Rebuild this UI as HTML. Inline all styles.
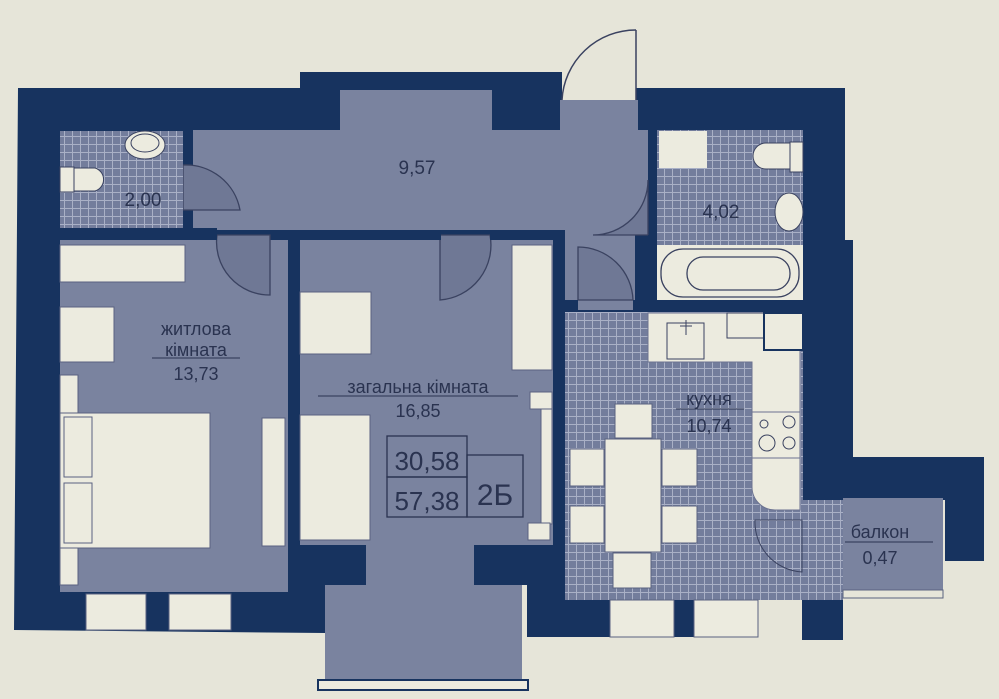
<!DOCTYPE html>
<html><head><meta charset="utf-8"><style>
html,body{margin:0;padding:0;background:#e6e5d9;}
svg{display:block}
text{font-family:"Liberation Sans","DejaVu Sans",sans-serif;fill:#2a3350;}
</style></head><body>
<svg width="999" height="699" viewBox="0 0 999 699" xmlns="http://www.w3.org/2000/svg">
<defs>
<pattern id="tile" width="8" height="8" patternUnits="userSpaceOnUse">
<rect width="8" height="8" fill="#737d9c"/>
<path d="M0 0.5H8M0.5 0V8" stroke="#a9b0c6" stroke-width="1"/>
</pattern>
</defs>
<rect width="999" height="699" fill="#e6e5d9"/>
<g fill="#17335f">
<polygon points="18,88 300,88 300,72 562,72 562,100 636,100 636,88 845,88 845,240 853,240 853,457 984,457 984,561 945,561 945,500 843,500 843,640 802,640 802,600 758,600 758,637 527,637 527,583 325,583 325,633 14,630"/>
</g>
<rect x="562" y="30" width="74" height="70" fill="#e6e5d9"/>
<path d="M636 30 A74 74 0 0 0 562 100" fill="none" stroke="#3a4260" stroke-width="1.5"/>
<line x1="636" y1="30" x2="636" y2="100" stroke="#3a4260" stroke-width="1.5"/>
<g fill="#7a839f">
<rect x="340" y="90" width="152" height="45"/>
<rect x="560" y="100" width="78" height="35"/>
<rect x="193" y="130" width="455" height="100"/>
<rect x="565" y="225" width="70" height="85"/>
<rect x="60" y="240" width="228" height="352"/>
<rect x="300" y="240" width="253" height="305"/>
<rect x="366" y="540" width="108" height="45"/>
<rect x="325" y="583" width="197" height="99"/>
</g>
<g fill="#6f7895" stroke="#3a4260" stroke-width="1.3">
<path d="M183 165 A55 55 0 0 1 240 210 L183 210 Z"/>
<path d="M217 235 A53 53 0 0 0 270 295 L270 235 Z"/>
<path d="M490 235 A55 55 0 0 1 440 300 L440 235 Z"/>
<path d="M648 180 A55 55 0 0 1 593 235 L648 235 Z"/>
<path d="M578 247 A55 55 0 0 1 633 300 L578 300 Z"/>
</g>
<g fill="#17335f">
<rect x="183" y="130" width="10" height="30"/>
<rect x="183" y="213" width="10" height="27"/>
<rect x="60" y="228" width="157" height="12"/>
<rect x="273" y="230" width="168" height="10"/>
<rect x="288" y="240" width="12" height="390"/>
<rect x="490" y="230" width="75" height="10"/>
<rect x="553" y="240" width="12" height="60"/>
<rect x="555" y="300" width="12" height="245"/>
<rect x="648" y="130" width="10" height="48"/>
<rect x="648" y="235" width="10" height="70"/>
<rect x="565" y="300" width="13" height="12"/>
<rect x="633" y="300" width="212" height="13"/>
<rect x="803" y="130" width="42" height="370"/>
<rect x="300" y="545" width="66" height="40"/>
<rect x="474" y="545" width="55" height="40"/>
</g>
<rect x="60" y="131" width="123" height="97" fill="url(#tile)"/>
<ellipse cx="145" cy="145" rx="20" ry="14" fill="#ecebdf" stroke="#3a4260"/>
<ellipse cx="145" cy="143" rx="14" ry="9" fill="none" stroke="#3a4260"/>
<rect x="60" y="167" width="14" height="25" fill="#ecebdf" stroke="#3a4260"/>
<path d="M74 168 H95 A12 12 0 0 1 95 191 H74 Z" fill="#ecebdf" stroke="#3a4260"/>
<rect x="657" y="130" width="146" height="115" fill="url(#tile)"/>
<rect x="659" y="131" width="48" height="37" fill="#ecebdf"/>
<rect x="790" y="142" width="13" height="30" fill="#ecebdf" stroke="#3a4260"/>
<path d="M790 143 H766 A13 13 0 0 0 766 169 H790 Z" fill="#ecebdf" stroke="#3a4260"/>
<ellipse cx="789" cy="212" rx="14" ry="19" fill="#ecebdf" stroke="#3a4260"/>
<rect x="657" y="245" width="146" height="55" fill="#ecebdf"/>
<rect x="661" y="249" width="138" height="48" rx="22" fill="none" stroke="#3a4260" stroke-width="1.3"/>
<rect x="687" y="257" width="103" height="33" rx="16" fill="none" stroke="#3a4260" stroke-width="1.3"/>
<rect x="565" y="312" width="238" height="288" fill="url(#tile)"/>
<rect x="802" y="500" width="41" height="100" fill="url(#tile)"/>
<path d="M648 313 H800 V510 H775 A23 23 0 0 1 752 487 V362 H648 Z" fill="#ecebdf" stroke="#6b7290"/>
<rect x="667" y="323" width="37" height="36" fill="none" stroke="#3a4260"/>
<line x1="686" y1="320" x2="686" y2="335" stroke="#3a4260"/><line x1="680" y1="326" x2="692" y2="326" stroke="#3a4260"/>
<rect x="727" y="313" width="37" height="25" fill="none" stroke="#3a4260"/>
<rect x="764" y="313" width="39" height="37" fill="#ecebdf" stroke="#17335f" stroke-width="2"/>
<line x1="752" y1="412" x2="800" y2="412" stroke="#6b7290"/>
<line x1="752" y1="458" x2="800" y2="458" stroke="#6b7290"/>
<g fill="none" stroke="#3a4260"><circle cx="764" cy="424" r="4"/><circle cx="789" cy="422" r="6"/><circle cx="767" cy="443" r="8"/><circle cx="789" cy="443" r="6"/></g>
<g fill="#ecebdf" stroke="#5a6280">
<rect x="615" y="404" width="37" height="34"/>
<rect x="613" y="553" width="38" height="35"/>
<rect x="570" y="449" width="34" height="37"/>
<rect x="570" y="506" width="34" height="37"/>
<rect x="662" y="449" width="35" height="37"/>
<rect x="662" y="506" width="35" height="37"/>
<rect x="605" y="439" width="56" height="113"/>
</g>
<path d="M755 520 A50 50 0 0 0 802 572 L802 520 Z" fill="url(#tile)" stroke="#3a4260"/>
<rect x="843" y="498" width="100" height="100" fill="#7a839f"/>
<rect x="843" y="590" width="100" height="8" fill="#e6e5d9" stroke="#5a6280"/>
<g fill="#ecebdf" stroke="#5a6280">
<rect x="60" y="245" width="125" height="37"/>
<rect x="60" y="307" width="54" height="55"/>
<rect x="60" y="375" width="18" height="210"/>
<rect x="60" y="413" width="150" height="135"/>
<rect x="64" y="417" width="28" height="60"/>
<rect x="64" y="483" width="28" height="60"/>
<rect x="262" y="418" width="23" height="128"/>
<rect x="300" y="292" width="71" height="62"/>
<rect x="300" y="415" width="70" height="125"/>
<rect x="512" y="245" width="40" height="125"/>
<rect x="530" y="392" width="22" height="17"/>
<rect x="541" y="409" width="11" height="115"/>
<rect x="528" y="523" width="22" height="17"/>
</g>
<g fill="#ecebdf" stroke="#5a6280">
<rect x="86" y="594" width="60" height="36"/>
<rect x="169" y="594" width="62" height="36"/>
<rect x="610" y="600" width="64" height="37"/>
<rect x="694" y="600" width="64" height="37"/>
</g>
<rect x="318" y="680" width="210" height="10" fill="#ecebdf" stroke="#17335f" stroke-width="2"/>
<text x="417" y="174" font-size="19" text-anchor="middle">9,57</text>
<text x="143" y="206" font-size="19" text-anchor="middle">2,00</text>
<text x="721" y="218" font-size="19" text-anchor="middle">4,02</text>
<text x="196" y="335" font-size="18" text-anchor="middle">житлова</text>
<text x="196" y="356" font-size="18" text-anchor="middle">кімната</text>
<line x1="152" y1="358" x2="240" y2="358" stroke="#2a3350"/>
<text x="196" y="380" font-size="18" text-anchor="middle">13,73</text>
<text x="418" y="393" font-size="18" text-anchor="middle">загальна кімната</text>
<line x1="318" y1="396" x2="518" y2="396" stroke="#2a3350"/>
<text x="418" y="417" font-size="18" text-anchor="middle">16,85</text>
<g fill="none" stroke="#2a3350" stroke-width="1.3">
<rect x="387" y="436" width="80" height="41"/><rect x="387" y="477" width="80" height="40"/><rect x="467" y="455" width="56" height="62"/>
</g>
<text x="427" y="470" font-size="26" text-anchor="middle">30,58</text>
<text x="427" y="510" font-size="26" text-anchor="middle">57,38</text>
<text x="495" y="505" font-size="30" text-anchor="middle">2Б</text>
<text x="709" y="405" font-size="18" text-anchor="middle">кухня</text>
<line x1="676" y1="409" x2="744" y2="409" stroke="#2a3350"/>
<text x="709" y="432" font-size="18" text-anchor="middle">10,74</text>
<text x="880" y="538" font-size="18" text-anchor="middle">балкон</text>
<line x1="845" y1="542" x2="933" y2="542" stroke="#2a3350"/>
<text x="880" y="564" font-size="18" text-anchor="middle">0,47</text>
</svg>
</body></html>
